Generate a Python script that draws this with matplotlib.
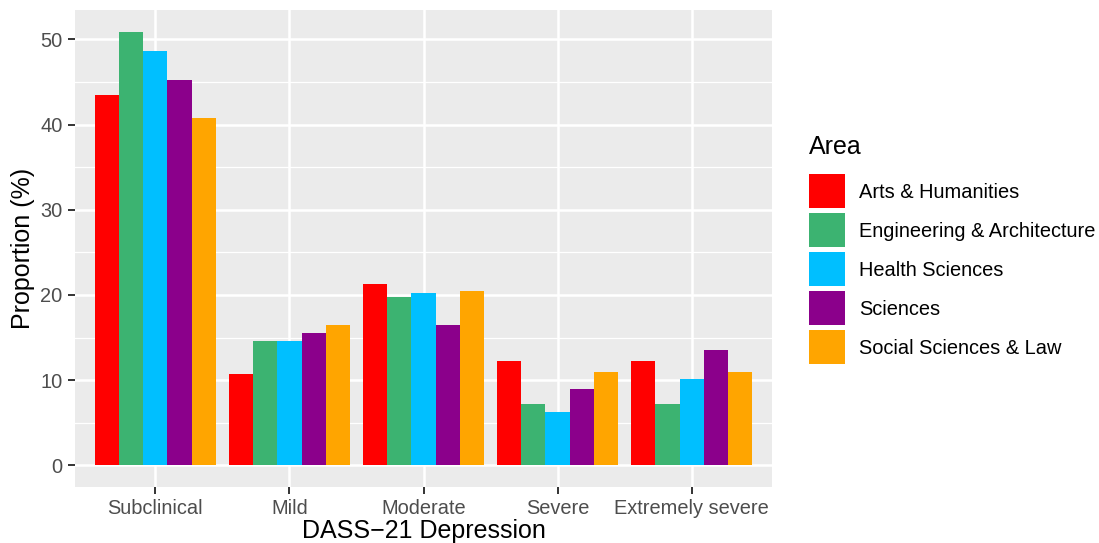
import matplotlib.pyplot as plt
import numpy as np
from matplotlib.patches import Patch

plt.rcParams['font.family'] = ['Liberation Sans', 'DejaVu Sans']

# =========================
# DATA
# =========================
categories = ['Subclinical', 'Mild', 'Moderate', 'Severe', 'Extremely severe']
areas = ['Arts & Humanities', 'Engineering & Architecture', 'Health Sciences',
         'Sciences', 'Social Sciences & Law']

arts = [43.5, 10.7, 21.3, 12.2, 12.2]
engineering = [50.9, 14.6, 19.8, 7.2, 7.2]
health = [48.6, 14.6, 20.2, 6.2, 10.1]
sciences = [45.2, 15.5, 16.5, 9.0, 13.5]
social = [40.8, 16.5, 20.5, 11.0, 10.9]

series = [arts, engineering, health, sciences, social]
colors = ['#FF0000', '#3CB371', '#00BFFF', '#8B008B', '#FFA500']

# =========================
# FIGURE
# =========================
fig = plt.figure(figsize=(10.99, 5.43), dpi=100)
ax = fig.add_axes([75 / 1099, 56 / 543, 697 / 1099, 477 / 543])
ax.set_facecolor('#EBEBEB')

x = np.arange(len(categories))
bw = 0.9 / len(series)
for i, (vals, col) in enumerate(zip(series, colors)):
    ax.bar(x + (i - 2) * bw, vals, width=bw, color=col, zorder=3, linewidth=0)

# limits like ggplot expansion
ymax = max(max(s) for s in series)
pad = 0.05 * ymax
ax.set_xlim(-0.6, len(categories) - 0.4)
ax.set_ylim(-pad, ymax + pad)

# grid
ax.set_yticks([0, 10, 20, 30, 40, 50])
ax.set_yticks([5, 15, 25, 35, 45], minor=True)
ax.set_xticks(x)
ax.set_xticklabels(categories)
ax.grid(which='major', color='white', linewidth=1.8, zorder=0)
ax.grid(which='minor', axis='y', color='white', linewidth=0.9, zorder=0)
ax.set_axisbelow(True)

for s in ax.spines.values():
    s.set_visible(False)

ax.tick_params(which='major', length=5, width=1.4, color='#333333',
               labelsize=14.4, labelcolor='#4D4D4D', pad=4)
ax.tick_params(which='minor', length=0)

ax.set_ylabel('Proportion (%)', fontsize=18, labelpad=4)
fig.text(423.5 / 1099, 5 / 543, 'DASS\u221221 Depression', fontsize=18,
         ha='center', va='baseline')

# =========================
# LEGEND
# =========================
handles = [Patch(facecolor=c, edgecolor='none') for c in colors]
leg = fig.legend(handles, areas, loc='upper left',
                 bbox_to_anchor=(809 / 1099, 1 - 135 / 543),
                 frameon=False, fontsize=14.4, title='Area', title_fontsize=18,
                 handlelength=1.8, handleheight=2.24, labelspacing=0.25,
                 handletextpad=0.7, borderpad=0, borderaxespad=0)
leg._legend_box.align = 'left'
leg._legend_box.sep = 11

plt.savefig('out.png', dpi=100)
